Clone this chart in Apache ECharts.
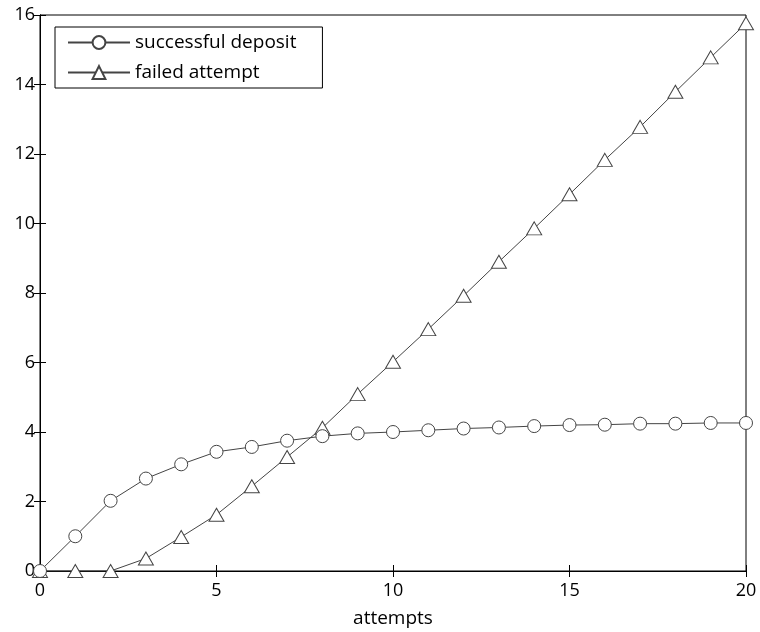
<!DOCTYPE html>
<html>
<head>
<meta charset="utf-8">
<script src="https://cdn.jsdelivr.net/npm/echarts@6/dist/echarts.min.js"></script>
<style>
  html, body { margin: 0; padding: 0; background: #fff; }
  #chart { width: 760px; height: 632px; }
</style>
</head>
<body>
<div id="chart"></div>
<script>
const attempts = [0, 1, 2, 3, 4, 5, 6, 7, 8, 9, 10, 11, 12, 13, 14, 15, 16, 17, 18, 19, 20];
const successful = [0, 1.0, 2.02, 2.66, 3.07, 3.43, 3.57, 3.75, 3.88, 3.96, 4.0, 4.05, 4.10, 4.13, 4.17, 4.2, 4.21, 4.24, 4.24, 4.26, 4.26];
const failed = [0, 0, 0, 0.36, 0.98, 1.62, 2.44, 3.28, 4.12, 5.09, 6.02, 6.96, 7.92, 8.9, 9.86, 10.84, 11.83, 12.78, 13.79, 14.78, 15.76];

const font = "Open Sans";
const pairs = function(ys) {
  return attempts.map((x, i) => [x, ys[i]]);
};

const chart = echarts.init(document.getElementById("chart"));

const tickStyle = { show: true, inside: true, length: 6, lineStyle: { color: "#000" } };

const option = {
  animation: false,
  textStyle: { fontFamily: font },
  grid: {
    left: 40, right: 14, top: 15, bottom: 61,
    containLabel: false,
    outerBoundsMode: "none",
    show: true, borderColor: "#000", borderWidth: 1
  },
  legend: {
    left: 55, top: 27,
    orient: "vertical",
    backgroundColor: "#fff",
    borderColor: "#000",
    borderWidth: 1,
    padding: [6, 26, 6, 12],
    itemWidth: 62,
    itemHeight: 16,
    itemGap: 11,
    textStyle: { fontFamily: font, fontSize: 19, color: "#000" },
    data: ["successful deposit", "failed attempt"]
  },
  xAxis: [
    {
      type: "value", min: 0, max: 20, interval: 5,
      name: "attempts", nameLocation: "middle", nameGap: 38,
      nameTextStyle: { fontFamily: font, fontSize: 19, color: "#000" },
      axisLine: { show: true, lineStyle: { color: "#000" } },
      axisTick: tickStyle,
      axisLabel: { fontFamily: font, fontSize: 18, color: "#000", margin: 11 },
      splitLine: { show: false }
    },
    {
      type: "value", min: 0, max: 20, interval: 5, position: "top",
      axisLine: { show: true, lineStyle: { color: "#000" } },
      axisTick: tickStyle,
      axisLabel: { show: false },
      splitLine: { show: false }
    }
  ],
  yAxis: [
    {
      type: "value", min: 0, max: 16, interval: 2,
      axisLine: { show: true, lineStyle: { color: "#000" } },
      axisTick: tickStyle,
      axisLabel: { fontFamily: font, fontSize: 18, color: "#000", margin: 5 },
      splitLine: { show: false }
    },
    {
      type: "value", min: 0, max: 16, interval: 2, position: "right",
      axisLine: { show: true, lineStyle: { color: "#000" } },
      axisTick: tickStyle,
      axisLabel: { show: false },
      splitLine: { show: false }
    }
  ],
  series: [
    {
      name: "successful deposit",
      type: "line",
      data: pairs(successful),
      symbol: "circle",
      symbolSize: 13,
      showAllSymbol: true,
      lineStyle: { color: "#444", width: 1 },
      itemStyle: { color: "#fff", borderColor: "#444", borderWidth: 1 },
      z: 3
    },
    {
      name: "failed attempt",
      type: "line",
      data: pairs(failed),
      symbol: "triangle",
      symbolSize: [15, 13],
      showAllSymbol: true,
      lineStyle: { color: "#444", width: 1 },
      itemStyle: { color: "#fff", borderColor: "#444", borderWidth: 1 },
      z: 2
    }
  ]
};

chart.setOption(option);
</script>
</body>
</html>
